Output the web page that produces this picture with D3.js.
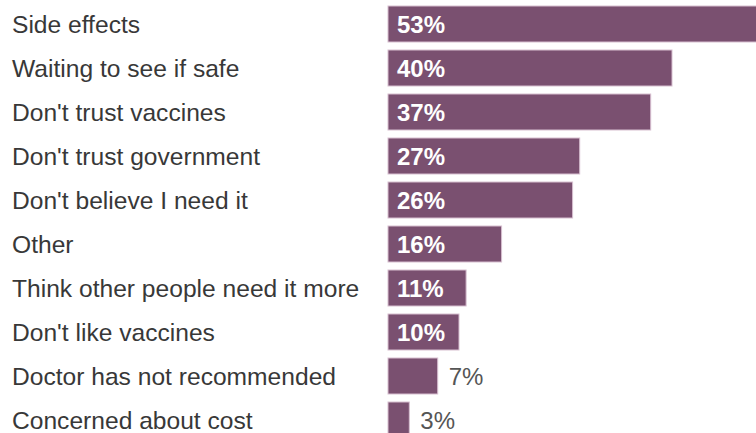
<!DOCTYPE html>
<html>
<head>
<meta charset="utf-8">
<script src="https://cdn.jsdelivr.net/npm/d3@7"></script>
<style>
  html, body { margin: 0; padding: 0; background: #fff; overflow: hidden; }
  svg { display: block; }
</style>
</head>
<body>
<svg id="chart" width="756" height="433"></svg>
<script>
// Reasons given for not getting vaccinated (share of respondents, %)
const reasons = [
  "Side effects",
  "Waiting to see if safe",
  "Don't trust vaccines",
  "Don't trust government",
  "Don't believe I need it",
  "Other",
  "Think other people need it more",
  "Don't like vaccines",
  "Doctor has not recommended",
  "Concerned about cost"
];
const shares = [53, 40, 37, 27, 26, 16, 11, 10, 7, 3];

const barLeft = 388;
const pxPerPoint = 7.1;
const fontFamily = "Liberation Sans, Arial, sans-serif";

const svg = d3.select("#chart");

const x = d3.scaleLinear()
  .domain([0, 100])
  .range([barLeft, barLeft + 100 * pxPerPoint]);

const y = d3.scaleBand()
  .domain(reasons)
  .range([2, 442])
  .paddingInner(8 / 44)
  .paddingOuter(4 / 44);

const rows = svg.selectAll("g.row")
  .data(reasons.map((r, i) => ({ reason: r, value: shares[i] })))
  .join("g")
  .attr("class", "row");

rows.append("text")
  .attr("x", 12)
  .attr("y", d => y(d.reason) + y.bandwidth() / 2)
  .attr("dy", "0.36em")
  .attr("font-family", fontFamily)
  .attr("font-size", 24.6)
  .attr("fill", "#383838")
  .text(d => d.reason);

rows.append("rect")
  .attr("x", x(0))
  .attr("y", d => y(d.reason))
  .attr("width", d => x(d.value) - x(0))
  .attr("height", y.bandwidth())
  .attr("fill", "#7a5070")
  .attr("stroke", "#d7bfd0")
  .attr("stroke-width", 1);

// Values sit inside wide bars, just past the end of narrow ones
const inside = d => d.value >= 10;
rows.append("text")
  .attr("x", d => inside(d) ? x(0) + 9 : x(d.value) + 11)
  .attr("y", d => y(d.reason) + y.bandwidth() / 2)
  .attr("dy", "0.36em")
  .attr("font-family", fontFamily)
  .attr("font-size", 24)
  .attr("font-weight", d => inside(d) ? "bold" : "normal")
  .attr("fill", d => inside(d) ? "#fff" : "#555")
  .text(d => d.value + "%");
</script>
</body>
</html>
